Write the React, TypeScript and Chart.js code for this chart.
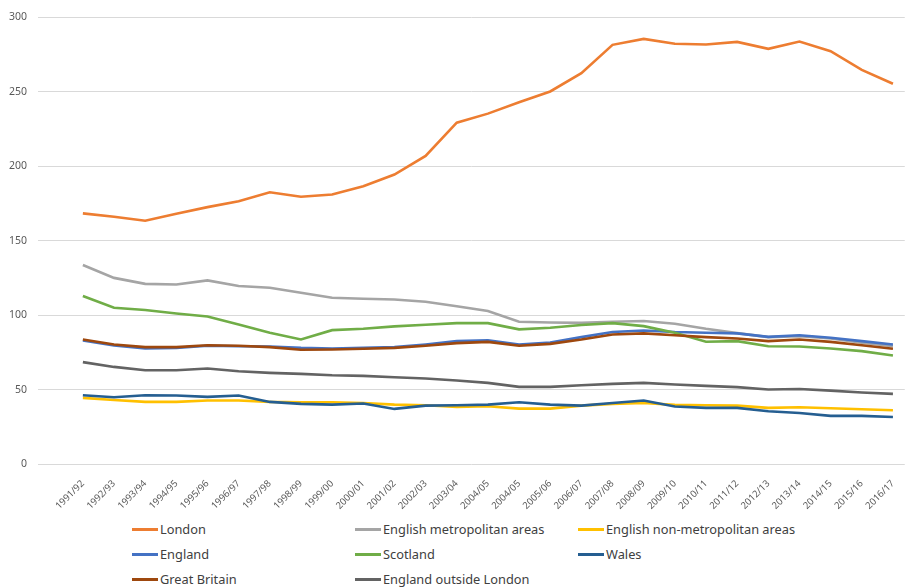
import { useEffect, useRef } from "react";
import { Chart, registerables } from "chart.js";

Chart.register(...registerables);

const categories = [
  "1991/92", "1992/93", "1993/94", "1994/95", "1995/96", "1996/97", "1997/98",
  "1998/99", "1999/00", "2000/01", "2001/02", "2002/03", "2003/04", "2004/05",
  "2004/05", "2005/06", "2006/07", "2007/08", "2008/09", "2009/10", "2010/11",
  "2011/12", "2012/13", "2013/14", "2014/15", "2015/16", "2016/17",
];

const yTicks = [0, 50, 100, 150, 200, 250, 300];

const london = [168.3, 166, 163.4, 168, 172.5, 176.5, 182.5, 179.5, 181, 186.5, 194.4, 206.9, 229.2, 235.3, 243, 250.2, 262.5, 281.5, 285.5, 282.2, 281.7, 283.5, 278.8, 283.7, 277.2, 264.7, 255.4];
const englishMetro = [133.6, 125, 121, 120.6, 123.3, 119.5, 118.4, 115, 111.7, 111, 110.5, 109, 106, 102.7, 95.5, 95, 94.8, 95.5, 96, 94.2, 90.8, 87.9, 85.2, 85.9, 84.3, 81.4, 79.1];
const englishNonMetro = [44.4, 43, 41.7, 41.7, 42.6, 42.6, 41.7, 41.5, 41.5, 41, 39.9, 39.5, 38.3, 38.8, 37.2, 37.2, 39.2, 40.4, 41, 39.7, 39.5, 39.2, 37.7, 38.1, 37.4, 36.8, 36.1];
const england = [83, 79.6, 77.6, 78, 79.4, 79.1, 78.9, 78, 77.6, 78, 78.5, 80.3, 82.5, 83, 80.3, 81.6, 85.2, 88.6, 89.7, 88.6, 88.1, 87.7, 85.4, 86.5, 84.8, 82.5, 80.3];
const scotland = [112.8, 104.9, 103.4, 101.1, 99.1, 93.7, 88.1, 83.6, 89.9, 90.8, 92.4, 93.5, 94.6, 94.6, 90.4, 91.5, 93.3, 94.6, 92.6, 88.1, 82.1, 82.5, 79.1, 78.9, 77.6, 75.8, 72.9];
const wales = [46.2, 44.8, 46.2, 46, 45.1, 46, 41.7, 40.4, 39.9, 40.6, 37, 39.2, 39.5, 39.9, 41.5, 39.9, 39.2, 41, 42.6, 38.6, 37.7, 37.7, 35.4, 34.3, 32.3, 32.3, 31.6];
const greatBritain = [83.6, 80.3, 78.5, 78.5, 79.8, 79.4, 78.5, 76.7, 76.9, 77.4, 78, 79.4, 81.2, 82, 79.4, 80.7, 83.6, 87, 87.7, 86.5, 85.2, 84.3, 82.5, 83.6, 82, 79.8, 77.4];
const englandOutsideLondon = [68.4, 65.2, 63, 63, 64.1, 62.3, 61.2, 60.5, 59.6, 59.2, 58.3, 57.4, 56.1, 54.5, 51.8, 51.8, 52.9, 53.8, 54.5, 53.4, 52.5, 51.6, 50, 50.4, 49.3, 48, 47.1];

const seriesNames = [
  "London",
  "English metropolitan areas",
  "English non-metropolitan areas",
  "England",
  "Scotland",
  "Wales",
  "Great Britain",
  "England outside London",
];
const seriesValues = [london, englishMetro, englishNonMetro, england, scotland, wales, greatBritain, englandOutsideLondon];
const seriesColors = ["#ED7D31", "#A5A5A5", "#FFC000", "#4472C4", "#70AD47", "#255E91", "#9E480E", "#636363"];

const FONT = "'Noto Sans', 'Liberation Sans', sans-serif";

export default function App() {
  const ref = useRef<HTMLCanvasElement>(null);

  useEffect(() => {
    const chart = new Chart(ref.current!, {
      type: "line",
      data: {
        datasets: seriesNames.map((name, i) => ({
          label: name,
          data: seriesValues[i].map((v, j) => ({ x: j, y: v })),
          borderColor: seriesColors[i],
          backgroundColor: seriesColors[i],
          borderWidth: 2.6,
          pointRadius: 0,
          tension: 0,
          fill: false,
          order: -i,
        })),
      },
      options: {
        animation: false,
        responsive: false,
        maintainAspectRatio: false,
        layout: { padding: { top: 13, right: 0, left: 0, bottom: 0 } },
        plugins: { legend: { display: false }, tooltip: { enabled: false } },
        scales: {
          x: {
            type: "linear",
            min: -1.44,
            max: 26.38,
            grid: { display: false },
            border: { display: false },
            afterBuildTicks: (axis: any) => {
              axis.ticks = categories.map((_, i) => ({ value: i }));
            },
            afterFit: (s: any) => {
              s.height = 46;
            },
            ticks: {
              autoSkip: false,
              minRotation: 45,
              maxRotation: 45,
              padding: 6,
              color: "#595959",
              font: { family: FONT, size: 9.5 },
              callback: (v: any) => categories[v as number] ?? "",
            },
          },
          y: {
            min: 0,
            max: 300,
            afterBuildTicks: (axis: any) => {
              axis.ticks = yTicks.map((v) => ({ value: v }));
            },
            afterFit: (s: any) => {
              s.width = 38;
            },
            grid: { color: "#d9d9d9", drawTicks: false, lineWidth: 1 },
            border: { display: false },
            ticks: {
              padding: 11,
              color: "#595959",
              font: { family: FONT, size: 10.5 },
            },
          },
        },
      },
    });
    return () => chart.destroy();
  }, []);

  const colLeft = [132, 355, 578];
  const rowTop = [529, 554, 579];

  return (
    <div
      style={{
        position: "absolute",
        left: 0,
        top: 0,
        width: 907,
        height: 588,
        background: "#fff",
        overflow: "hidden",
        fontFamily: FONT,
      }}
    >
      <canvas ref={ref} width={907} height={510} style={{ display: "block" }} />
      {seriesNames.map((name, i) => (
        <div
          key={name}
          style={{
            position: "absolute",
            left: colLeft[i % 3],
            top: rowTop[Math.floor(i / 3)] - 10,
            height: 20,
            display: "flex",
            alignItems: "center",
            whiteSpace: "nowrap",
            fontSize: 12.8,
            color: "#404040",
          }}
        >
          <span
            style={{
              display: "inline-block",
              width: 26,
              height: 3,
              background: seriesColors[i],
              marginRight: 2,
            }}
          />
          <span>{name}</span>
        </div>
      ))}
    </div>
  );
}
